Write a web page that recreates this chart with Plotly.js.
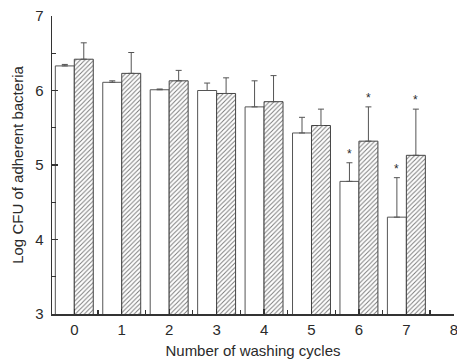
<!DOCTYPE html>
<html>
<head>
<meta charset="utf-8">
<script src="https://cdn.plot.ly/plotly-3.0.1.min.js"></script>
<style>
  html, body { margin: 0; padding: 0; background: #fff; }
  #chart { width: 457px; height: 360px; }
</style>
</head>
<body>
<div id="chart"></div>
<script>
// Washing cycles on the x axis
const cycles = [0, 1, 2, 3, 4, 5, 6, 7];

// Plain (white) bars: mean log CFU and upper SD
const plainMean = [6.33, 6.11, 6.01, 6.00, 5.78, 5.43, 4.78, 4.30];
const plainErr  = [0.02, 0.02, 0.01, 0.10, 0.35, 0.21, 0.25, 0.53];

// Hatched bars: mean log CFU and upper SD
const hatchMean = [6.42, 6.23, 6.13, 5.96, 5.85, 5.53, 5.32, 5.13];
const hatchErr  = [0.22, 0.28, 0.14, 0.21, 0.35, 0.22, 0.46, 0.62];

// Significance markers (*)
const plainSig = [false, false, false, false, false, false, true, true];
const hatchSig = [false, false, false, false, false, false, true, true];

const barOffset = 0.2;
const font = 'Liberation Sans, Arial, sans-serif';
const ink = '#2a2a2a';

const plain = {
  type: 'bar',
  x: cycles,
  y: plainMean,
  offsetgroup: 'a',
  marker: { color: '#ffffff', line: { color: '#555', width: 1 } },
  error_y: { type: 'data', array: plainErr, arrayminus: plainErr.map(() => 0),
             symmetric: false, color: '#555', thickness: 1, width: 3 },
  hoverinfo: 'skip'
};

const hatched = {
  type: 'bar',
  x: cycles,
  y: hatchMean,
  offsetgroup: 'b',
  marker: {
    color: '#ffffff',
    line: { color: '#444', width: 1 },
    pattern: { shape: '/', fgcolor: '#7a7a7a', bgcolor: '#ffffff', size: 3.2, solidity: 0.3 }
  },
  error_y: { type: 'data', array: hatchErr, arrayminus: hatchErr.map(() => 0),
             symmetric: false, color: '#555', thickness: 1, width: 3 },
  hoverinfo: 'skip'
};

const annotations = [];
cycles.forEach((c, i) => {
  if (plainSig[i]) annotations.push({
    x: c - barOffset, y: plainMean[i] + plainErr[i], text: '*',
    showarrow: false, yanchor: 'middle', yshift: 9,
    font: { family: font, size: 12, color: ink }
  });
  if (hatchSig[i]) annotations.push({
    x: c + barOffset, y: hatchMean[i] + hatchErr[i], text: '*',
    showarrow: false, yanchor: 'middle', yshift: 9,
    font: { family: font, size: 12, color: ink }
  });
});

const layout = {
  width: 457,
  height: 360,
  margin: { l: 51.5, r: 3, t: 16, b: 45.5 },
  paper_bgcolor: '#ffffff',
  plot_bgcolor: '#ffffff',
  showlegend: false,
  barmode: 'group',
  bargap: 0.2,
  bargroupgap: 0,
  font: { family: font, color: ink },
  xaxis: {
    range: [-0.47, 8.004],
    tickmode: 'array', tickvals: [0, 1, 2, 3, 4, 5, 6, 7, 8],
    ticktext: ['0', '1', '2', '3', '4', '5', '6', '7', '8'],
    ticks: 'inside', ticklen: 5, tickwidth: 1.2, tickcolor: '#333',
    minor: { tickvals: [0.5, 1.5, 2.5, 3.5, 4.5, 5.5, 6.5, 7.5],
             ticks: 'inside', ticklen: 4, tickwidth: 1.2, tickcolor: '#333' },
    showline: true, linecolor: '#333', linewidth: 1.5,
    showgrid: false, zeroline: false,
    tickfont: { size: 15, color: ink },
    ticklabelstandoff: 1,
    ticklabeloverflow: 'allow',
    title: { text: 'Number of washing cycles', font: { size: 15, color: ink }, standoff: 9 }
  },
  yaxis: {
    range: [3, 7],
    tickmode: 'linear', tick0: 3, dtick: 1,
    ticks: 'inside', ticklen: 6, tickwidth: 1.2, tickcolor: '#333',
    minor: { dtick: 0.5, ticks: 'inside', ticklen: 4, tickwidth: 1.2, tickcolor: '#333' },
    showline: true, linecolor: '#333', linewidth: 1.5,
    showgrid: false, zeroline: false,
    tickfont: { size: 15, color: ink },
    ticklabelstandoff: 4,
    title: { text: 'Log CFU of adherent bacteria', font: { size: 15, color: ink }, standoff: 8 }
  },
  annotations: annotations
};

Plotly.newPlot('chart', [plain, hatched], layout, { staticPlot: true, displayModeBar: false });
</script>
</body>
</html>
